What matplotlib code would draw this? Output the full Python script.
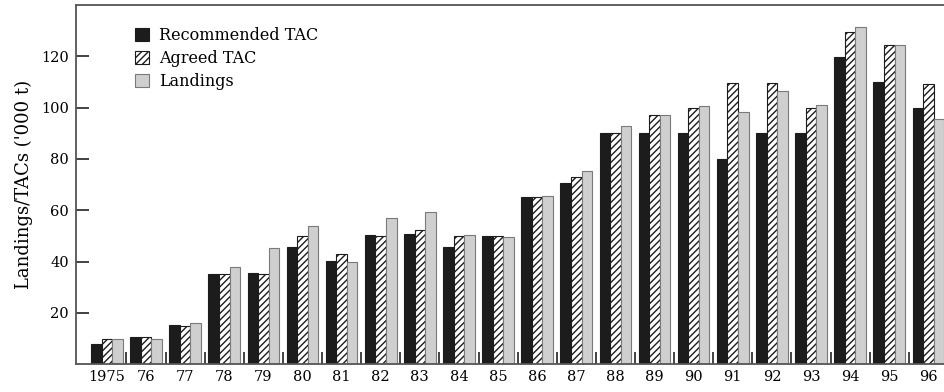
import matplotlib.pyplot as plt
import numpy as np

plt.rcParams['font.family'] = 'DejaVu Serif'
plt.rcParams['hatch.linewidth'] = 1.0

years = ['1975', '76', '77', '78', '79', '80', '81', '82', '83', '84', '85',
         '86', '87', '88', '89', '90', '91', '92', '93', '94', '95', '96']
recommended = [8, 10.5, 15.3, 35.2, 35.5, 45.5, 40.4, 50.3, 50.7, 45.5, 50.1,
               65.3, 70.7, 90.2, 90.2, 90.2, 80, 90, 90, 119.7, 110, 99.8]
agreed = [10, 10.5, 15, 35, 35, 50, 43, 50, 52.4, 50, 50,
          65, 73, 90.2, 97, 100, 109.8, 109.8, 100, 129.6, 124.6, 109.3]
landings = [10, 10, 16, 37.7, 45.4, 53.7, 39.8, 56.8, 59.3, 50.5, 49.7,
            65.6, 75.5, 92.7, 97.3, 100.7, 98.3, 106.7, 101.1, 131.6, 124.6, 95.4]

x = np.arange(len(years))
w = 0.27

fig = plt.figure(figsize=(9.44, 3.92), dpi=100)
ax = fig.add_axes([0.0805, 0.071, 0.9195, 0.916])

ax.bar(x - w, recommended, w, color='#1c1c1c', edgecolor='#1c1c1c', linewidth=0.8,
       label='Recommended TAC')
ax.bar(x, agreed, w, color='white', edgecolor='#1c1c1c', hatch='/////', linewidth=0.8,
       label='Agreed TAC')
ax.bar(x + w, landings, w, color='#cfcfcf', edgecolor='#7a7a7a', linewidth=0.8,
       label='Landings')

ax.set_xlim(-0.79, 21.4)
ax.set_ylim(0, 140)

# year labels at group centres, tick marks between groups
ax.set_xticks(x[:-1] + 0.5)
ax.set_xticklabels([])
ax.set_xticks(x, minor=True)
ax.set_xticklabels(years, minor=True, fontsize=10.5)
ax.tick_params(axis='x', which='major', direction='in', length=9, width=1.2, color='#222222')
ax.tick_params(axis='x', which='minor', length=0, pad=4)

ax.set_yticks([20, 40, 60, 80, 100, 120])
ax.tick_params(axis='y', direction='in', length=9, width=1.2, color='#222222', labelsize=10.5, pad=5)

ax.set_ylabel("Landings/TACs ('000 t)", fontsize=13, labelpad=6)

for side in ['left', 'top', 'bottom']:
    ax.spines[side].set_color('#555555')
    ax.spines[side].set_linewidth(1.3)
ax.spines['right'].set_visible(False)

ax.legend(loc='upper left', bbox_to_anchor=(0.055, 0.97), frameon=False,
          fontsize=11.5, handlelength=0.9, handleheight=0.9, handletextpad=0.6,
          labelspacing=0.38, borderaxespad=0.3)

fig.savefig('out.png', dpi=100)
